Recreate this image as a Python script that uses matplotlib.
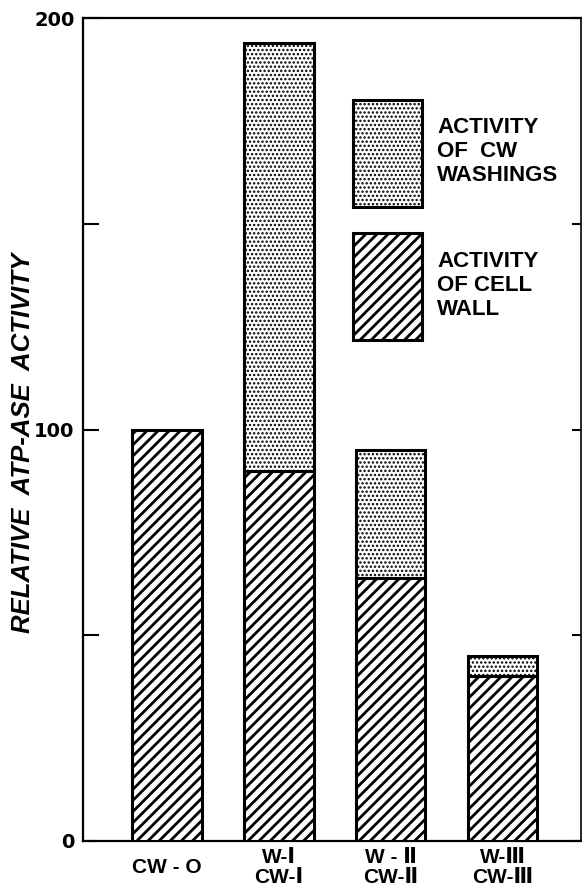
import matplotlib
matplotlib.use("Agg")
import matplotlib.pyplot as plt
from matplotlib.patches import Rectangle
import numpy as np

# values
groups = ["CW - O", "W-Ⅰ\nCW-Ⅰ", "W - Ⅱ\nCW-Ⅱ", "W-Ⅲ\nCW-Ⅲ"]
cell_wall = [100, 90, 64, 40]
washings = [0, 104, 31, 5]
y_ticks = [0, 50, 100, 150, 200]
y_ticklabels = ["0", "", "100", "", "200"]
legend_labels = ["ACTIVITY\nOF  CW\nWASHINGS", "ACTIVITY\nOF CELL\nWALL"]

plt.rcParams["font.family"] = ["Liberation Sans", "DejaVu Sans"]
plt.rcParams["font.weight"] = "bold"
plt.rcParams["hatch.linewidth"] = 2.0

DOTS, STRIPES = "....", "///"
EDGE = 2.2
W, H = 582, 883  # figure size in px


def thin_dots(patches):
    for p in patches:
        if hasattr(p, "set_hatch_linewidth"):
            p.set_hatch_linewidth(1.15)


fig = plt.figure(figsize=(W / 100, H / 100), dpi=100)
ax = fig.add_axes([83 / W, 42 / H, 498 / W, 823 / H])

x = np.arange(len(groups))
wall = np.array(cell_wall, dtype=float)
wash = np.array(washings, dtype=float)
has_wash = wash > 0

ax.bar(x, wall, 0.62, color="white", edgecolor="black", hatch=STRIPES,
       linewidth=EDGE, zorder=3)
wash_bars = ax.bar(x[has_wash], wash[has_wash], 0.62, bottom=wall[has_wash],
                   color="white", edgecolor="black", hatch=DOTS,
                   linewidth=EDGE, zorder=3)
thin_dots(wash_bars)

ax.set_xlim(-0.75, 3.70)
ax.set_ylim(0, 200)

ax.set_yticks(y_ticks)
ax.set_yticklabels(y_ticklabels, family="DejaVu Sans", fontsize=14)
ax.tick_params(axis="y", direction="in", length=11.5, width=1.5, pad=6,
               left=True, right=True)
for t in ax.yaxis.get_major_ticks():
    t.tick2line.set_markersize(6.5)

ax.set_xticks(x)
ax.set_xticklabels(groups, fontsize=15, linespacing=1.05)
ax.tick_params(axis="x", length=0, pad=19)
for lab in ax.get_xticklabels():
    lab.set_verticalalignment("center")

for side in ["left", "bottom", "top"]:
    ax.spines[side].set_linewidth(1.6)
ax.spines["right"].set_linewidth(1.2)

ax.set_ylabel("RELATIVE  ATP-ASE  ACTIVITY", fontsize=18.5, style="italic",
              fontweight="bold")
ax.yaxis.set_label_coords(-0.096, 0.4836)

# key: two hatched boxes with their captions (pixel layout of the scan)
for (top, text_top, hatch, label) in [(100, 117, DOTS, legend_labels[0]),
                                      (233, 251, STRIPES, legend_labels[1])]:
    box = Rectangle((353 / W, 1 - (top + 107) / H), 69 / W, 107 / H,
                    transform=fig.transFigure, facecolor="white",
                    edgecolor="black", hatch=hatch, linewidth=EDGE)
    if hatch == DOTS:
        thin_dots([box])
    fig.add_artist(box)
    fig.text(437 / W, 1 - text_top / H, label, fontsize=16, va="top",
             ha="left", linespacing=1.18)

fig.savefig("out.png", dpi=100)
